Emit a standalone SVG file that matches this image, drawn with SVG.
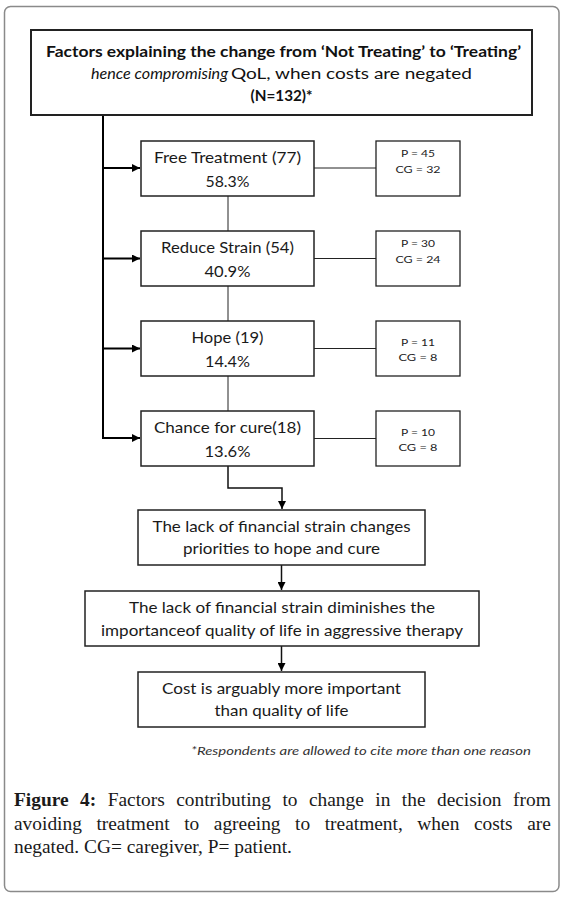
<svg xmlns="http://www.w3.org/2000/svg" width="564" height="898" viewBox="0 0 564 898">
<style>
.frame{fill:#fff;stroke:#8a8a8a;stroke-width:1.5}
.box{fill:#fff;stroke:#222;stroke-width:1.5}
.sbox{fill:#fff;stroke:#222;stroke-width:1.3}
.t{font-family:Lato,"Open Sans","Liberation Sans",sans-serif;font-size:15px;fill:#1a1a1a;text-anchor:middle}
.tb{font-family:Lato,"Open Sans","Liberation Sans",sans-serif;font-size:15.5px;font-weight:bold;fill:#111}
.s{font-family:Lato,"Open Sans","Liberation Sans",sans-serif;font-size:10px;fill:#222;text-anchor:middle}
.fn{font-family:Lato,"Open Sans","Liberation Sans",sans-serif;font-size:11.5px;font-style:italic;fill:#333}
.cap{font-family:"Liberation Serif","Times New Roman",serif;font-size:19.4px;fill:#1a1a1a}
.c1{fill:none;stroke:#222;stroke-width:1}
.c2{fill:none;stroke:#000;stroke-width:2}
.c3{fill:none;stroke:#111;stroke-width:1.5}
</style>
<defs>
<marker id="ah" viewBox="0 0 10 10" refX="10" refY="5" markerWidth="9" markerHeight="8" markerUnits="userSpaceOnUse" orient="auto">
<path d="M0,0 L10,5 L0,10 z" fill="#000"/>
</marker>
</defs>
<rect class="frame" x="4.5" y="6.5" width="554.5" height="885" rx="6"/>

<g id="connectors">
<path class="c2" d="M103,115 V438"/>
<path class="c2" d="M103,168 H140" marker-end="url(#ah)"/>
<path class="c2" d="M103,258.5 H140" marker-end="url(#ah)"/>
<path class="c2" d="M103,348.5 H140" marker-end="url(#ah)"/>
<path class="c2" d="M102,438 H140" marker-end="url(#ah)"/>
<path class="c1" d="M228,196 V231 M228,286 V321 M228,376 V411"/>
<path class="c1" d="M314,168 H376 M314,258.5 H376 M314,348.5 H376 M314,438.5 H376"/>
<path class="c3" d="M228,466 V488 H282 V509" marker-end="url(#ah)"/>
<path class="c3" d="M281.5,565 V590" marker-end="url(#ah)"/>
<path class="c3" d="M281.5,646 V671" marker-end="url(#ah)"/>
</g>

<g id="title">
<rect class="box" x="31" y="30" width="501" height="85" style="stroke-width:2"/>
<text class="tb" x="46" y="56.5" textLength="475" lengthAdjust="spacingAndGlyphs">Factors explaining the change from ‘Not Treating’ to ‘Treating’</text>
<text class="tb" x="91" y="78.5" textLength="137" lengthAdjust="spacingAndGlyphs" style="font-weight:normal;font-style:italic">hence compromising</text>
<text class="tb" x="231" y="78.5" textLength="241" lengthAdjust="spacingAndGlyphs" style="font-weight:normal">QoL, when costs are negated</text>
<text class="tb" x="281.5" y="100.5" textLength="62" lengthAdjust="spacingAndGlyphs" style="text-anchor:middle">(N=132)*</text>
</g>

<g id="free-treatment">
<rect class="box" x="141" y="141" width="173" height="55"/>
<text class="t" x="227.5" y="163" textLength="147" lengthAdjust="spacingAndGlyphs">Free Treatment (77)</text>
<text class="t" x="227.5" y="187" textLength="44" lengthAdjust="spacingAndGlyphs">58.3%</text>
</g>
<g id="free-treatment-split">
<rect class="sbox" x="376" y="141" width="84" height="55"/>
<text class="s" x="418" y="156.5" textLength="34" lengthAdjust="spacingAndGlyphs">P = 45</text>
<text class="s" x="418" y="172.5" textLength="45" lengthAdjust="spacingAndGlyphs">CG = 32</text>
</g>

<g id="reduce-strain">
<rect class="box" x="141" y="231" width="173" height="55"/>
<text class="t" x="227.5" y="253" textLength="133" lengthAdjust="spacingAndGlyphs">Reduce Strain (54)</text>
<text class="t" x="227.5" y="277" textLength="46" lengthAdjust="spacingAndGlyphs">40.9%</text>
</g>
<g id="reduce-strain-split">
<rect class="sbox" x="376" y="231" width="84" height="55"/>
<text class="s" x="418" y="246.5" textLength="34" lengthAdjust="spacingAndGlyphs">P = 30</text>
<text class="s" x="418" y="262.5" textLength="45" lengthAdjust="spacingAndGlyphs">CG = 24</text>
</g>

<g id="hope">
<rect class="box" x="141" y="321" width="173" height="55"/>
<text class="t" x="227.5" y="343" textLength="72" lengthAdjust="spacingAndGlyphs">Hope (19)</text>
<text class="t" x="227.5" y="367" textLength="45" lengthAdjust="spacingAndGlyphs">14.4%</text>
</g>
<g id="hope-split">
<rect class="sbox" x="376" y="321" width="84" height="55"/>
<text class="s" x="418" y="345.5" textLength="34" lengthAdjust="spacingAndGlyphs">P = 11</text>
<text class="s" x="418" y="360.5" textLength="39" lengthAdjust="spacingAndGlyphs">CG = 8</text>
</g>

<g id="chance-for-cure">
<rect class="box" x="141" y="411" width="173" height="55"/>
<text class="t" x="227.5" y="433" textLength="147" lengthAdjust="spacingAndGlyphs">Chance for cure(18)</text>
<text class="t" x="227.5" y="457" textLength="46" lengthAdjust="spacingAndGlyphs">13.6%</text>
</g>
<g id="chance-for-cure-split">
<rect class="sbox" x="376" y="411" width="84" height="55"/>
<text class="s" x="418" y="435.5" textLength="34" lengthAdjust="spacingAndGlyphs">P = 10</text>
<text class="s" x="418" y="450.5" textLength="39" lengthAdjust="spacingAndGlyphs">CG = 8</text>
</g>

<g id="priorities">
<rect class="box" x="138" y="510" width="287" height="55"/>
<text class="t" x="281.5" y="532" textLength="258" lengthAdjust="spacingAndGlyphs">The lack of financial strain changes</text>
<text class="t" x="281.5" y="554" textLength="197" lengthAdjust="spacingAndGlyphs">priorities to hope and cure</text>
</g>

<g id="diminishes">
<rect class="box" x="85" y="591" width="394" height="55"/>
<text class="t" x="282" y="613" textLength="306" lengthAdjust="spacingAndGlyphs">The lack of financial strain diminishes the</text>
<text class="t" x="282" y="636" textLength="362" lengthAdjust="spacingAndGlyphs">importanceof quality of life in aggressive therapy</text>
</g>

<g id="cost">
<rect class="box" x="138" y="672" width="287" height="55"/>
<text class="t" x="281.5" y="694" textLength="239" lengthAdjust="spacingAndGlyphs">Cost is arguably more important</text>
<text class="t" x="281.5" y="716" textLength="134" lengthAdjust="spacingAndGlyphs">than quality of life</text>
</g>

<text class="fn" x="191" y="755" textLength="340" lengthAdjust="spacingAndGlyphs">*Respondents are allowed to cite more than one reason</text>

<g id="caption">
<text class="cap" x="14" y="806" word-spacing="6.6"><tspan font-weight="bold">Figure 4:</tspan> Factors contributing to change in the decision from</text>
<text class="cap" x="14" y="830" word-spacing="9.7">avoiding treatment to agreeing to treatment, when costs are</text>
<text class="cap" x="14" y="853">negated. CG= caregiver, P= patient.</text>
</g>
</svg>
